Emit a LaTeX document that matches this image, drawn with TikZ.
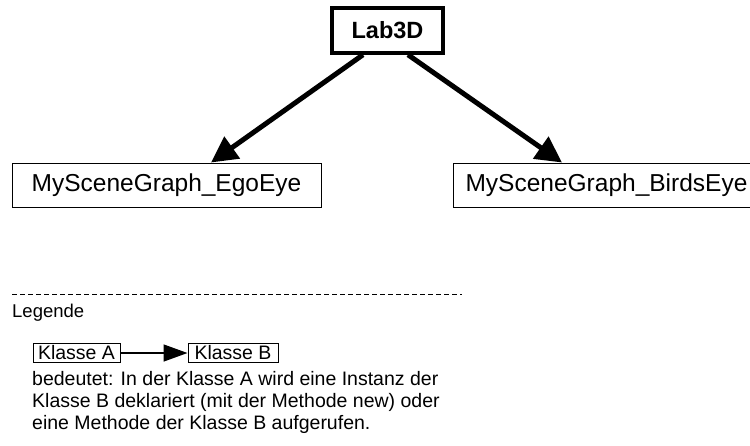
\documentclass[tikz,border=0pt]{standalone}
\usepackage{fontspec}
\setmainfont{Liberation Sans}
\usetikzlibrary{arrows.meta,positioning}

\tikzset{
  classbox/.style={draw, line width=1pt, inner sep=0pt, align=center},
  mainbox/.style={classbox, line width=3.5pt, font=\fontsize{23.5}{28}\selectfont\bfseries},
  bigbox/.style={classbox, font=\fontsize{24.5}{29}\selectfont},
  smallbox/.style={classbox, font=\fontsize{19.5}{22}\selectfont},
  uses/.style={line width=5pt, -{Triangle[length=26pt,width=26pt]}},
  smalluses/.style={line width=1.5pt, -{Triangle[length=24pt,width=17pt]}}
}

\begin{document}
\begin{tikzpicture}[x=1pt,y=-1pt]
  \useasboundingbox (0,0) rectangle (750,445);

  % class nodes
  \node[mainbox, minimum width=111pt, minimum height=45pt] (lab) at (387.5,30.5) {Lab3D};
  \node[bigbox, minimum width=309pt, minimum height=44pt] (ego) at (166.5,185) {MySceneGraph\_EgoEye};
  \node[bigbox, minimum width=307pt, minimum height=44pt] (birds) at (606.5,185) {MySceneGraph\_BirdsEye};

  % instantiation arrows
  \draw[uses] ([xshift=-24.5pt]lab.south) -- ([xshift=44.5pt]ego.north);
  \draw[uses] ([xshift=20.5pt]lab.south) -- ([xshift=-44.5pt]birds.north);

  % legend
  \coordinate (sepL) at (12,294);
  \coordinate (sepR) at (462,294);
  \draw[line width=1pt, dash pattern=on 5pt off 3pt] (sepL) -- (sepR);
  \node[anchor=west, inner sep=0pt, font=\fontsize{18.5}{22}\selectfont] (legend) at (12,313) {Legende};

  \node[smallbox, minimum width=87pt, minimum height=19pt] (ka) at (76.5,353) {Klasse A};
  \node[smallbox, minimum width=90pt, minimum height=19pt] (kb) at (233,353) {Klasse B};
  \draw[smalluses] (ka.east) -- (kb.west);

  % explanation, anchored at the baseline of its last line
  \node[anchor=base west, inner sep=0pt, align=left, font=\fontsize{19.5}{22}\selectfont] (expl) at (32,429)
    {bedeutet: In der Klasse A wird eine Instanz der\\
     Klasse B deklariert (mit der Methode new) oder\\
     eine Methode der Klasse B aufgerufen.};
\end{tikzpicture}
\end{document}
